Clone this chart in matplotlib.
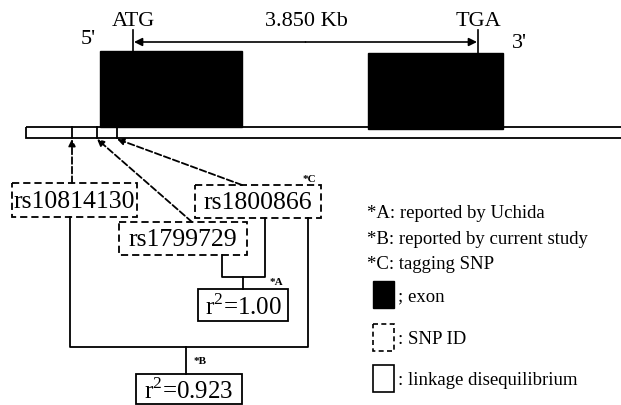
"""SNP / LD diagram"""
import matplotlib
matplotlib.use("Agg")
import matplotlib.pyplot as plt
from matplotlib.patches import Rectangle

plt.rcParams['font.family'] = ['Liberation Serif', 'DejaVu Serif']
plt.rcParams['mathtext.fontset'] = 'custom'
plt.rcParams['mathtext.rm'] = 'Liberation Serif'

# ラベル類
snp_ids = ["rs10814130", "rs1799729", "rs1800866"]
ld_values = ["1.00", "0.923"]
gene_length = "3.850 Kb"
codon_labels = ["ATG", "TGA"]
legend_notes = ["*A: reported by Uchida", "*B: reported by current study", "*C: tagging SNP"]
legend_swatches = ["; exon", ": SNP ID", ": linkage disequilibrium"]

# レイアウト (ピクセル座標)
exons = [(100, 52, 242, 128), (368, 54, 503, 130)]
bar_y = (128, 139)
bar_div = [72, 97, 117]
snp_boxes = [(12, 184, 137, 218), (119, 223, 247, 256), (195, 186, 321, 219)]
snp_targets = [72, 97, 117]
snp_src = [72, 192, 242]

DASH = (0, (4, 2.2))

fig = plt.figure(figsize=(6.21, 4.06), dpi=100)
ax = fig.add_axes([0, 0, 1, 1])
ax.set_xlim(0, 621)
ax.set_ylim(406, 0)
ax.axis('off')

# 遺伝子のバー
ax.add_patch(Rectangle((26, bar_y[0]), 640, bar_y[1] - bar_y[0], fill=False, lw=1.3, ec='black'))
for x in bar_div:
    ax.plot([x, x], bar_y, color='black', lw=1.3)

# エキソン
for x0, y0, x1, y1 in exons:
    ax.add_patch(Rectangle((x0, y0), x1 - x0, y1 - y0, color='black'))

# ATG - TGA
atg_x, tga_x = 133, 478
for x, lab, ybot in [(atg_x, codon_labels[0], 52), (tga_x, codon_labels[1], 54)]:
    ax.plot([x, x], [31, ybot], color='black', lw=1.2)
    ax.text(x, 21, lab, ha='center', va='center', fontsize=16)
ax.annotate('', xy=(atg_x + 1, 43), xytext=((atg_x + tga_x) / 2, 43),
            arrowprops=dict(arrowstyle='-|>', color='black', lw=1.2, mutation_scale=12, shrinkA=0, shrinkB=0))
ax.annotate('', xy=(tga_x - 1, 43), xytext=((atg_x + tga_x) / 2, 43),
            arrowprops=dict(arrowstyle='-|>', color='black', lw=1.2, mutation_scale=12, shrinkA=0, shrinkB=0))
ax.text(306, 21, gene_length, ha='center', va='center', fontsize=16)
ax.text(88, 40, "5'", ha='center', va='center', fontsize=16)
ax.text(519, 44, "3'", ha='center', va='center', fontsize=16)

# SNPボックス
for (x0, y0, x1, y1), name in zip(snp_boxes, snp_ids):
    ax.add_patch(Rectangle((x0, y0), x1 - x0, y1 - y0, fill=False, lw=1.3, ls=DASH, ec='black'))
    ax.text((x0 + x1) / 2, (y0 + y1) / 2 + 1, name, ha='center', va='center', fontsize=18.5)
ax.text(309, 180, "*C", ha='center', va='center', fontsize=8, fontweight='bold')

# SNPから遺伝子への矢印
for (x0, y0, x1, y1), sx, tx in zip(snp_boxes, snp_src, snp_targets):
    ax.annotate('', xy=(tx, bar_y[1] + 1), xytext=(sx, y0),
                arrowprops=dict(arrowstyle='-|>', color='black', lw=1.3, ls='--',
                                mutation_scale=10, shrinkA=0, shrinkB=0))

# 連鎖不平衡の線
ax.plot([222, 222, 265, 265], [256, 278, 278, 219], color='black', lw=1.3)
ax.plot([243, 243], [278, 290], color='black', lw=1.3)
ax.text(276, 283, "*A", ha='center', va='center', fontsize=8, fontweight='bold')
ax.plot([70, 70, 308, 308], [218, 348, 348, 219], color='black', lw=1.3)
ax.plot([186, 186], [348, 375], color='black', lw=1.3)
ax.text(200, 362, "*B", ha='center', va='center', fontsize=8, fontweight='bold')

r2_boxes = [(198, 290, 288, 322), (136, 375, 242, 405)]
for (x0, y0, x1, y1), val in zip(r2_boxes, ld_values):
    ax.add_patch(Rectangle((x0, y0), x1 - x0, y1 - y0, fill=False, lw=1.3, ec='black'))
    ax.text((x0 + x1) / 2, (y0 + y1) / 2 + 1, "r$^{2}$=" + val, ha='center', va='center', fontsize=18)

# 凡例
for y, note in zip([214, 240, 265], legend_notes):
    ax.text(367, y, note, ha='left', va='center', fontsize=13.5)
sw_y = [282, 325, 366]
ax.add_patch(Rectangle((373, sw_y[0]), 21, 27, color='black'))
ax.add_patch(Rectangle((373, sw_y[1]), 21, 27, fill=False, lw=1.2, ls=(0, (3, 2)), ec='black'))
ax.add_patch(Rectangle((373, sw_y[2]), 21, 27, fill=False, lw=1.2, ec='black'))
for y, lab in zip(sw_y, legend_swatches):
    ax.text(398, y + 15, lab, ha='left', va='center', fontsize=13.5)

fig.savefig('out.png', dpi=100)
